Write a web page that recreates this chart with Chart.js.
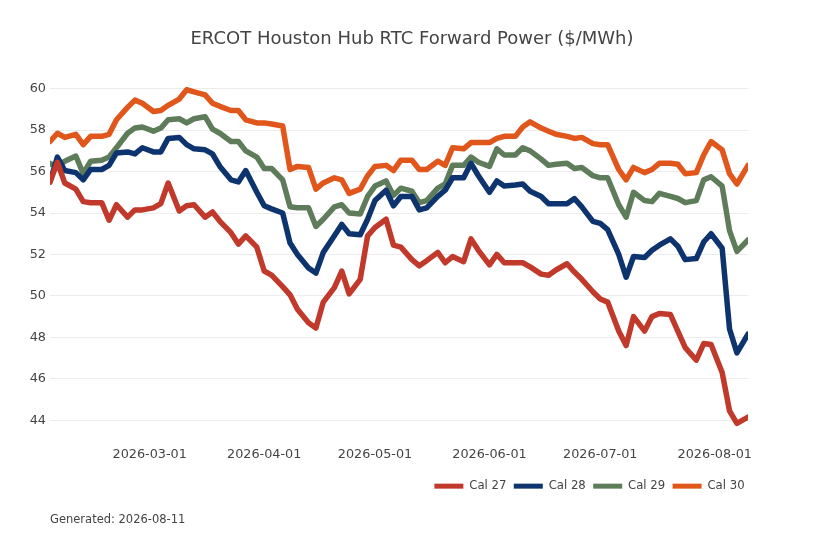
<!DOCTYPE html>
<html>
<head>
<meta charset="utf-8">
<title>ERCOT Houston Hub RTC Forward Power</title>
<script src="https://cdn.jsdelivr.net/npm/chart.js@4.4.1/dist/chart.umd.min.js"></script>
<style>
  html, body { margin: 0; padding: 0; background: #fff; }
  #wrap { width: 818px; height: 545px; }
</style>
</head>
<body>
<div id="wrap"><canvas id="chart" width="818" height="545"></canvas></div>
<script>
// Trade dates (Mon / Wed / Fri sampling of the curve)
const dates = [
  '2026-02-02', '2026-02-04', '2026-02-06',
  '2026-02-09', '2026-02-11', '2026-02-13',
  '2026-02-16', '2026-02-18', '2026-02-20',
  '2026-02-23', '2026-02-25', '2026-02-27',
  '2026-03-02', '2026-03-04', '2026-03-06',
  '2026-03-09', '2026-03-11', '2026-03-13',
  '2026-03-16', '2026-03-18', '2026-03-20',
  '2026-03-23', '2026-03-25', '2026-03-27',
  '2026-03-30', '2026-04-01', '2026-04-03',
  '2026-04-06', '2026-04-08', '2026-04-10',
  '2026-04-13', '2026-04-15', '2026-04-17',
  '2026-04-20', '2026-04-22', '2026-04-24',
  '2026-04-27', '2026-04-29', '2026-05-01',
  '2026-05-04', '2026-05-06', '2026-05-08',
  '2026-05-11', '2026-05-13', '2026-05-15',
  '2026-05-18', '2026-05-20', '2026-05-22',
  '2026-05-25', '2026-05-27', '2026-05-29',
  '2026-06-01', '2026-06-03', '2026-06-05',
  '2026-06-08', '2026-06-10', '2026-06-12',
  '2026-06-15', '2026-06-17', '2026-06-19',
  '2026-06-22', '2026-06-24', '2026-06-26',
  '2026-06-29', '2026-07-01', '2026-07-03',
  '2026-07-06', '2026-07-08', '2026-07-10',
  '2026-07-13', '2026-07-15', '2026-07-17',
  '2026-07-20', '2026-07-22', '2026-07-24',
  '2026-07-27', '2026-07-29', '2026-07-31',
  '2026-08-03', '2026-08-05', '2026-08-07',
  '2026-08-10'
];

const cal27 = [
  55.5, 56.45, 55.45,  55.15, 54.55, 54.5,  54.5, 53.65, 54.4,  53.8, 54.15, 54.15,
  54.25, 54.45, 55.45,  54.1, 54.35, 54.4,  53.8, 54.05, 53.6,  53.05, 52.5, 52.9,
  52.35, 51.2, 51.0,  50.45, 50.05, 49.35,  48.7, 48.45, 49.7,  50.4, 51.2, 50.1,
  50.8, 52.9, 53.3,  53.7, 52.45, 52.35,  51.75, 51.45, 51.7,  52.1, 51.6, 51.9,
  51.65, 52.75, 52.2,  51.5, 52.0, 51.6,  51.6, 51.6, 51.4,  51.05, 51.0, 51.25,
  51.55, 51.15, 50.8,  50.2, 49.85, 49.7,  48.3, 47.6, 49.0,  48.3, 49.0, 49.15,
  49.1, 48.3, 47.5,  46.9, 47.7, 47.65,  46.3, 44.45, 43.85,  44.15
];

const cal28 = [
  55.5, 56.7, 56.05,  55.95, 55.6, 56.1,  56.1, 56.3, 56.9,  56.95, 56.85, 57.15,
  56.95, 56.95, 57.6,  57.65, 57.3, 57.1,  57.05, 56.85, 56.25,  55.6, 55.5, 56.05,
  55.0, 54.35, 54.2,  54.0, 52.55, 52.0,  51.35, 51.1, 52.1,  52.9, 53.45, 53.0,
  52.95, 53.7, 54.6,  55.1, 54.35, 54.8,  54.8, 54.15, 54.25,  54.8, 55.1, 55.7,
  55.7, 56.4, 55.8,  55.0, 55.55, 55.3,  55.35, 55.4, 55.05,  54.8, 54.45, 54.45,
  54.45, 54.7, 54.3,  53.6, 53.5, 53.2,  52.0, 50.9, 51.9,  51.85, 52.2, 52.45,
  52.75, 52.4, 51.75,  51.8, 52.6, 53.0,  52.3, 48.4, 47.25,  48.15
];

const cal29 = [
  56.4, 56.2, 56.5,  56.75, 55.9, 56.5,  56.55, 56.7, 57.15,  57.85, 58.1, 58.15,
  57.95, 58.1, 58.5,  58.55, 58.35, 58.55,  58.65, 58.05, 57.85,  57.45, 57.45, 57.0,
  56.7, 56.15, 56.15,  55.6, 54.3, 54.25,  54.25, 53.35, 53.7,  54.3, 54.4, 54.0,
  53.95, 54.8, 55.3,  55.55, 54.85, 55.2,  55.05, 54.5, 54.6,  55.2, 55.4, 56.3,
  56.3, 56.7, 56.45,  56.25, 57.1, 56.8,  56.8, 57.15, 57.0,  56.6, 56.3, 56.35,
  56.4, 56.15, 56.2,  55.8, 55.7, 55.7,  54.4, 53.8, 55.0,  54.6, 54.55, 54.95,
  54.8, 54.7, 54.5,  54.6, 55.6, 55.75,  55.3, 53.15, 52.15,  52.7
];

const cal30 = [
  57.45, 57.85, 57.65,  57.8, 57.3, 57.7,  57.7, 57.8, 58.5,  59.1, 59.45, 59.3,
  58.9, 58.95, 59.2,  59.5, 59.95, 59.85,  59.7, 59.3, 59.15,  58.95, 58.95, 58.5,
  58.35, 58.35, 58.3,  58.2, 56.1, 56.25,  56.2, 55.15, 55.45,  55.7, 55.6, 54.95,
  55.15, 55.8, 56.25,  56.3, 56.05, 56.55,  56.55, 56.1, 56.1,  56.5, 56.3, 57.15,
  57.1, 57.4, 57.4,  57.4, 57.6, 57.7,  57.7, 58.15, 58.4,  58.1, 57.95, 57.8,
  57.7, 57.6, 57.65,  57.35, 57.3, 57.3,  56.1, 55.6, 56.2,  55.95, 56.1, 56.4,
  56.4, 56.35, 55.9,  55.95, 56.8, 57.45,  57.05, 55.9, 55.4,  56.3
];

const seriesNames = ['Cal 27', 'Cal 28', 'Cal 29', 'Cal 30'];
const seriesColors = ['#c0392b', '#0d346e', '#5e7c5a', '#e0561b'];

const xTickLabels = ['2026-03-01', '2026-04-01', '2026-05-01', '2026-06-01', '2026-07-01', '2026-08-01'];
const yTicks = [44, 46, 48, 50, 52, 54, 56, 58, 60];

const titleText = 'ERCOT Houston Hub RTC Forward Power ($/MWh)';
const footText = 'Generated: 2026-08-11';

const FONT = '"DejaVu Sans", Verdana, sans-serif';
const TEXT_COLOR = '#444';

// days since the first trade date, used as the x value
const DAY = 86400000;
const t0 = Date.parse(dates[0]);
const toDay = (d) => (Date.parse(d) - t0) / DAY;
const xValues = dates.map(toDay);
const xTickValues = xTickLabels.map(toDay);

const makeSeries = (values) => values.map((v, i) => ({ x: xValues[i], y: v }));

const datasets = [cal27, cal28, cal29, cal30].map((values, i) => ({
  label: seriesNames[i],
  data: makeSeries(values),
  borderColor: seriesColors[i],
  backgroundColor: seriesColors[i],
  borderWidth: 5.5,
  borderJoinStyle: 'round',
  borderCapStyle: 'round',
  pointRadius: 0,
  tension: 0,
  fill: false
}));

// title and footnote, drawn like the rest of the chart text
const pageText = {
  id: 'pageText',
  afterLayout(chart) {
    // legend sits a few px further right than the plot edge
    if (chart.legend) {
      chart.legend.left += 4;
      chart.legend.right += 4;
    }
  },
  afterDraw(chart) {
    const ctx = chart.ctx;
    ctx.save();
    ctx.fillStyle = TEXT_COLOR;
    ctx.textBaseline = 'middle';
    ctx.textAlign = 'center';
    ctx.font = '18px ' + FONT;
    ctx.fillText(titleText, 412, 39);
    ctx.textAlign = 'left';
    ctx.font = '11.5px ' + FONT;
    ctx.fillText(footText, 50, 520);
    ctx.restore();
  }
};

new Chart(document.getElementById('chart').getContext('2d'), {
  type: 'line',
  data: { datasets },
  options: {
    responsive: false,
    animation: false,
    devicePixelRatio: 1,
    layout: { padding: { left: 0, right: 70, top: 68, bottom: 43 } },
    plugins: {
      title: { display: false },
      tooltip: { enabled: false },
      legend: {
        position: 'bottom',
        align: 'end',
        labels: {
          boxWidth: 29,
          boxHeight: 5,
          padding: 7.4,
          color: TEXT_COLOR,
          font: { family: FONT, size: 11.7 },
          generateLabels: (chart) => chart.data.datasets.map((ds, i) => ({
            text: ds.label,
            fillStyle: ds.borderColor,
            strokeStyle: ds.borderColor,
            lineWidth: 0,
            hidden: false,
            datasetIndex: i,
            fontColor: TEXT_COLOR
          }))
        }
      }
    },
    scales: {
      x: {
        type: 'linear',
        min: xValues[0],
        max: xValues[xValues.length - 1],
        grid: { display: false, drawTicks: false },
        border: { display: false },
        afterBuildTicks: (scale) => {
          scale.ticks = xTickValues.map((v) => ({ value: v }));
        },
        afterFit: (scale) => { scale.height = 32; },
        ticks: {
          padding: 6,
          maxRotation: 0,
          autoSkip: false,
          color: TEXT_COLOR,
          font: { family: FONT, size: 12.8 },
          callback: (value, index) => xTickLabels[index]
        }
      },
      y: {
        min: 43,
        max: 61,
        grid: { color: '#ececec', lineWidth: 1, drawTicks: false },
        border: { display: false },
        afterBuildTicks: (scale) => {
          scale.ticks = yTicks.map((v) => ({ value: v }));
        },
        afterFit: (scale) => { scale.width = 50; },
        ticks: {
          padding: 4,
          color: TEXT_COLOR,
          font: { family: FONT, size: 12.8 },
          callback: (value) => String(value)
        }
      }
    }
  },
  plugins: [pageText]
});
</script>
</body>
</html>
